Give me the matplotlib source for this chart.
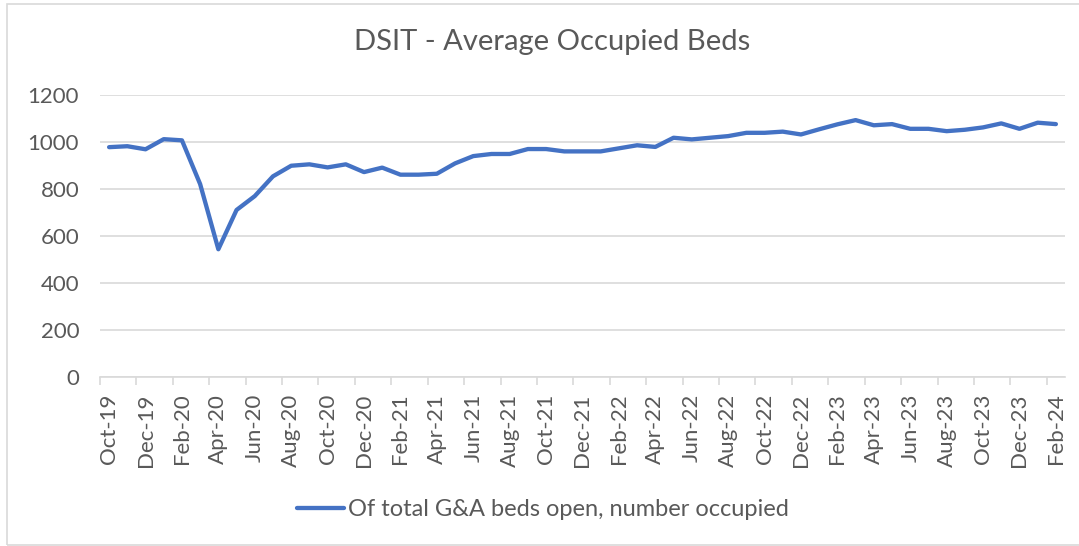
import matplotlib
matplotlib.use("Agg")
import matplotlib.pyplot as plt
from matplotlib.patches import Rectangle

# monthly average occupied G&A beds, Oct-19 .. Feb-24
months = ['Oct-19', 'Nov-19', 'Dec-19', 'Jan-20', 'Feb-20', 'Mar-20', 'Apr-20', 'May-20',
          'Jun-20', 'Jul-20', 'Aug-20', 'Sep-20', 'Oct-20', 'Nov-20', 'Dec-20', 'Jan-21',
          'Feb-21', 'Mar-21', 'Apr-21', 'May-21', 'Jun-21', 'Jul-21', 'Aug-21', 'Sep-21',
          'Oct-21', 'Nov-21', 'Dec-21', 'Jan-22', 'Feb-22', 'Mar-22', 'Apr-22', 'May-22',
          'Jun-22', 'Jul-22', 'Aug-22', 'Sep-22', 'Oct-22', 'Nov-22', 'Dec-22', 'Jan-23',
          'Feb-23', 'Mar-23', 'Apr-23', 'May-23', 'Jun-23', 'Jul-23', 'Aug-23', 'Sep-23',
          'Oct-23', 'Nov-23', 'Dec-23', 'Jan-24', 'Feb-24']
occupied = [977, 981, 968, 1011, 1006, 820, 543, 710, 769, 853, 898, 904, 891, 904,
            871, 890, 860, 860, 864, 908, 939, 948, 948, 969, 969, 959, 959, 959,
            972, 985, 978, 1017, 1010, 1017, 1024, 1038, 1038, 1043, 1031, 1053,
            1074, 1092, 1070, 1075, 1055, 1055, 1045, 1051, 1061, 1078, 1055, 1081, 1075]

grey = '#595959'
light = '#D9D9D9'
plt.rcParams['font.family'] = ['Lato', 'DejaVu Sans']

fig = plt.figure(figsize=(10.79, 5.46), dpi=100)
ax = fig.add_axes([100/1079, 1-377/546, 965/1079, (377-94.7)/546])

x = list(range(len(months)))
line, = ax.plot(x, occupied, color='#4472C4', linewidth=3.1,
                solid_capstyle='round', solid_joinstyle='round',
                label='Of total G&A beds open, number occupied')

ax.set_xlim(-0.5, len(months) - 0.5)
ax.set_ylim(0, 1200)
ax.set_yticks(range(0, 1201, 200))
ax.yaxis.grid(True, color=light, linewidth=1.2)
ax.set_axisbelow(True)
ax.tick_params(axis='y', length=0, pad=15, labelsize=16, labelcolor=grey)

# tick marks on category boundaries, labels on every other month
ax.set_xticks([i - 0.5 for i in range(0, len(months) + 1, 2)])
ax.set_xticklabels([])
ax.tick_params(axis='x', which='major', length=6, width=1.2, color=light, direction='out')
ax.set_xticks(x[::2], minor=True)
ax.set_xticklabels(months[::2], minor=True, rotation=90)
ax.tick_params(axis='x', which='minor', length=0, pad=12, labelsize=16, labelcolor=grey)

for s in ['top', 'right', 'left']:
    ax.spines[s].set_visible(False)
ax.spines['bottom'].set_color(light)
ax.spines['bottom'].set_linewidth(1.2)

fig.text(0.512, 1-42/546, 'DSIT - Average Occupied Beds', ha='center', va='center',
         fontsize=21, color=grey)

fig.legend(handles=[line], loc='center', bbox_to_anchor=(0.503, 1-510/546),
           frameon=False, fontsize=17, labelcolor=grey, handlelength=2.0,
           handletextpad=0.15)

fig.patches.append(Rectangle((7/1079, 1-545/546), 1.1, 541/546, transform=fig.transFigure,
                             fill=False, edgecolor=light, linewidth=1.2))

fig.savefig('out.png', dpi=100, facecolor='white')
